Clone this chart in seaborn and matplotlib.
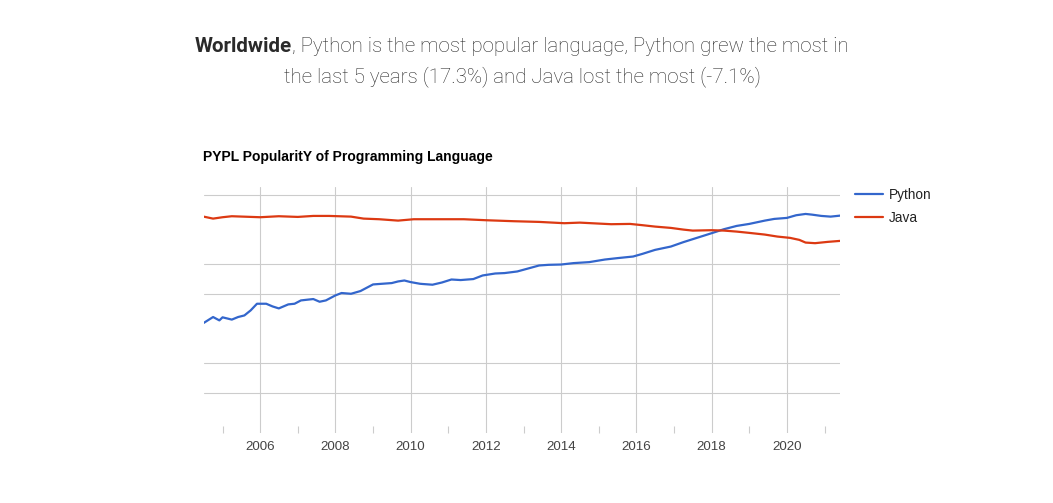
import matplotlib
matplotlib.use("Agg")
import matplotlib.pyplot as plt
import matplotlib.dates as mdates
from matplotlib.ticker import FixedLocator, NullLocator
import seaborn as sns
import pandas as pd

# ---- data (PYPL share, %) ----
python_dates = ["2004-07", "2004-10", "2004-12", "2005-01", "2005-04", "2005-06", "2005-08",
                "2005-10", "2005-12", "2006-03", "2006-05", "2006-07", "2006-10", "2006-12",
                "2007-02", "2007-04", "2007-06", "2007-08", "2007-10", "2008-01", "2008-03",
                "2008-06", "2008-09", "2008-11", "2009-01", "2009-04", "2009-07", "2009-09",
                "2009-11", "2010-01", "2010-04", "2010-05", "2010-08", "2010-11", "2011-02",
                "2011-05", "2011-09", "2011-12", "2012-04", "2012-07", "2012-11", "2013-03",
                "2013-06", "2013-09", "2014-01", "2014-05", "2014-10", "2015-03", "2015-07",
                "2015-12", "2016-03", "2016-07", "2016-12", "2017-04", "2017-08", "2018-01",
                "2018-05", "2018-09", "2019-01", "2019-06", "2019-09", "2020-01", "2020-04",
                "2020-07", "2020-09", "2020-12", "2021-03", "2021-06"]
python_share = [2.55, 2.93, 2.71, 2.91, 2.76, 2.93, 3.04,
                3.42, 3.99, 3.99, 3.75, 3.58, 3.93, 3.99,
                4.31, 4.38, 4.45, 4.18, 4.31, 4.84, 5.12,
                5.03, 5.36, 5.79, 6.25, 6.35, 6.45, 6.70,
                6.85, 6.60, 6.35, 6.31, 6.21, 6.54, 7.01,
                6.92, 7.08, 7.70, 8.06, 8.14, 8.45, 9.14,
                9.71, 9.86, 9.93, 10.26, 10.50, 11.15, 11.52,
                11.96, 12.73, 13.96, 15.08, 16.70, 18.32, 20.57,
                22.58, 24.36, 25.52, 27.56, 28.67, 29.34, 31.23,
                32.18, 31.67, 30.73, 30.24, 30.94]

java_dates = ["2004-07", "2004-10", "2005-01", "2005-04", "2006-01", "2006-07", "2007-01",
              "2007-06", "2007-11", "2008-06", "2008-10", "2009-03", "2009-09", "2010-02",
              "2010-10", "2011-06", "2012-01", "2012-10", "2013-06", "2014-02", "2014-07",
              "2015-05", "2015-11", "2016-03", "2016-07", "2016-12", "2017-04", "2017-07",
              "2018-01", "2018-05", "2018-09", "2019-01", "2019-06", "2019-10", "2020-02",
              "2020-05", "2020-07", "2020-10", "2021-02", "2021-06"]
java_share = [30.24, 28.87, 29.81, 30.51, 29.81, 30.51, 30.03,
              30.73, 30.73, 30.24, 28.87, 28.46, 27.56, 28.46,
              28.46, 28.46, 27.81, 27.17, 26.74, 25.94, 26.30,
              25.35, 25.52, 24.77, 23.98, 23.26, 22.37, 21.85,
              22.05, 21.85, 21.35, 20.72, 19.92, 19.02, 18.45,
              17.61, 16.54, 16.31, 16.81, 17.20]

languages = ["Python", "Java"]
line_colors = ["#3366CC", "#DC3912"]
label_years = [2006, 2008, 2010, 2012, 2014, 2016, 2018, 2020]
minor_years = [2005, 2007, 2009, 2011, 2013, 2015, 2017, 2019, 2021]
grid_values = [0.5, 1, 5, 10, 50]

chart_title = "PYPL PopularitY of Programming Language"
head_bold = "Worldwide"
head_rest = ", Python is the most popular language, Python grew the most in"
head_line2 = "the last 5 years (17.3%) and Java lost the most (-7.1%)"

# ---- build long table ----
df = pd.concat([
    pd.DataFrame({"date": pd.to_datetime(python_dates), "share": python_share, "language": "Python"}),
    pd.DataFrame({"date": pd.to_datetime(java_dates), "share": java_share, "language": "Java"}),
], ignore_index=True)

sns.set_theme(style="white")
plt.rcParams['font.family'] = ['Liberation Sans', 'DejaVu Sans']

W, H = 1053, 503
fig = plt.figure(figsize=(W / 100, H / 100), dpi=100)
fig.patch.set_facecolor("white")

ax_l, ax_r, ax_t, ax_b = 203.6, 840.1, 187, 433
ax = fig.add_axes([ax_l / W, 1 - ax_b / H, (ax_r - ax_l) / W, (ax_b - ax_t) / H])

sns.lineplot(data=df, x="date", y="share", hue="language", hue_order=languages,
             palette=dict(zip(languages, line_colors)), linewidth=1.6, ax=ax)

ax.set_yscale("log")
ax.set_ylim(0.1977, 60.2)
ax.set_xlim(pd.Timestamp("2004-07-01"), pd.Timestamp("2021-06-01"))

ax.yaxis.set_major_locator(FixedLocator(grid_values))
ax.yaxis.set_minor_locator(NullLocator())
ax.set_yticklabels([])
ax.tick_params(axis="y", length=0)

ax.set_xticks([mdates.date2num(pd.Timestamp(f"{y}-01-01")) for y in label_years])
ax.set_xticklabels([str(y) for y in label_years])
ax.xaxis.set_minor_locator(FixedLocator([mdates.date2num(pd.Timestamp(f"{y}-01-01")) for y in minor_years]))
ax.tick_params(axis="x", which="major", length=0, pad=6, labelsize=9.6, labelcolor="#444444")
ax.tick_params(axis="x", which="minor", direction="in", length=5, width=0.8, color="#cccccc", bottom=True)

ax.grid(True, which="major", color="#cccccc", linewidth=0.8)
for s in ax.spines.values():
    s.set_visible(False)
ax.set_xlabel("")
ax.set_ylabel("")

handles, labels = ax.get_legend_handles_labels()
ax.legend(handles, labels, loc="upper left", bbox_to_anchor=(855 / W, 1 - 188 / H),
          bbox_transform=fig.transFigure, frameon=False, borderaxespad=0, borderpad=0,
          handlelength=2.05, handletextpad=0.45, labelspacing=0.68,
          prop={"size": 9.8}, labelcolor="#222222")

fig.text(203 / W, 1 - 157 / H, chart_title, fontsize=10, fontweight="bold",
         color="#000000", va="center", ha="left")

# ---- heading ----
head_size = 14.8
hc = "#2a2a2a"
fam = ["Roboto", "Liberation Sans", "DejaVu Sans"]
t1 = fig.text(0, 1 - 47 / H, head_bold, fontsize=head_size, fontweight="bold", color=hc,
              va="center", ha="left", family=fam)
t2 = fig.text(0, 1 - 47 / H, head_rest, fontsize=head_size, fontweight="light", color=hc,
              va="center", ha="left", family=fam)
fig.text(522 / W, 1 - 77 / H, head_line2, fontsize=head_size, fontweight="light", color=hc,
         va="center", ha="center", family=fam)
fig.canvas.draw()
r = fig.canvas.get_renderer()
w1 = t1.get_window_extent(r).width
w2 = t2.get_window_extent(r).width
start = 522 - (w1 + w2) / 2
t1.set_x(start / W)
t2.set_x((start + w1) / W)

fig.savefig("out.png", dpi=100, facecolor="white")
